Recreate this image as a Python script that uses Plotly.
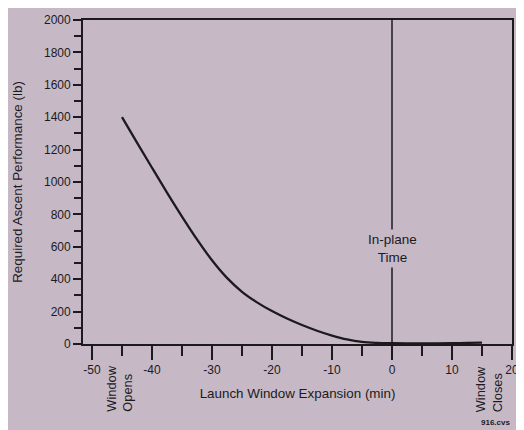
import plotly.graph_objects as go

# Data
expansion_min = [-45, -42.5, -40, -37.5, -35, -32.5, -30, -27.5, -25, -22.5, -20,
                 -17.5, -15, -12.5, -10, -7.5, -5, -2.5, 0, 2.5, 5, 7.5, 10, 12.5, 15]
ascent_perf_lb = [1400, 1243, 1088, 935, 787, 646, 517, 408, 322, 257, 203,
                  157, 117, 82, 52, 28, 13, 7, 5, 4, 4, 4, 5, 7, 8]

x_ticks = [-50, -40, -30, -20, -10, 0, 10, 20]
y_ticks = [0, 200, 400, 600, 800, 1000, 1200, 1400, 1600, 1800, 2000]

x_title = "Launch Window Expansion (min)"
y_title = "Required Ascent Performance (lb)"
inplane_label = "In-plane<br>Time"
opens_label = "Window<br>Opens"
closes_label = "Window<br>Closes"
opens_x = -45.4
closes_x = 16.2
inplane_x = 0
corner_note = "916.cvs"

BG = "#c6b9c5"
INK = "#1c1a1e"
FONT = "Liberation Sans, Arial, sans-serif"

fig = go.Figure()
fig.add_trace(go.Scatter(
    x=expansion_min, y=ascent_perf_lb, mode="lines",
    line=dict(color=INK, width=2.3, shape="spline", smoothing=1.0),
    hoverinfo="skip", showlegend=False,
))

# vertical in-plane time line
fig.add_shape(type="line", x0=inplane_x, x1=inplane_x, y0=0, y1=2000,
              xref="x", yref="y", line=dict(color=INK, width=1.5), layer="below")

fig.add_annotation(x=inplane_x, y=590, xref="x", yref="y", text=inplane_label,
                   showarrow=False, bgcolor=BG, borderpad=2,
                   font=dict(family=FONT, size=13.5, color=INK))

fig.add_annotation(x=opens_x, y=-0.139, xref="x", yref="paper", text=opens_label,
                   showarrow=False, textangle=-90, align="left", yanchor="middle",
                   font=dict(family=FONT, size=12.8, color=INK))
fig.add_annotation(x=closes_x, y=-0.139, xref="x", yref="paper", text=closes_label,
                   showarrow=False, textangle=-90, align="left", yanchor="middle",
                   font=dict(family=FONT, size=12.8, color=INK))
fig.add_annotation(x=1.0, y=-0.242, xref="paper", yref="paper", text="<b>" + corner_note + "</b>",
                   showarrow=False, xanchor="right", yanchor="middle",
                   font=dict(family=FONT, size=8, color=INK))

fig.update_xaxes(
    range=[-51.5, 20], tickvals=x_ticks, ticktext=[str(v) for v in x_ticks],
    ticks="outside", ticklen=14, tickwidth=1.5, tickcolor=INK,
    minor=dict(dtick=5, tick0=0, ticks="outside", ticklen=10, tickwidth=1.5, tickcolor=INK),
    showline=True, linecolor=INK, linewidth=1.8, mirror=True,
    showgrid=False, zeroline=False,
    tickfont=dict(family=FONT, size=12, color=INK),
    title=dict(text=x_title, font=dict(family=FONT, size=13.4, color=INK), standoff=12),
)
fig.update_yaxes(
    range=[0, 2000], tickvals=y_ticks, ticktext=[str(v) for v in y_ticks],
    ticks="outside", ticklen=8, tickwidth=1.5, tickcolor=INK,
    minor=dict(dtick=100, tick0=0, ticks="outside", ticklen=7, tickwidth=1.5, tickcolor=INK),
    showline=True, linecolor=INK, linewidth=1.8, mirror=True,
    showgrid=False, zeroline=False,
    tickfont=dict(family=FONT, size=12, color=INK),
    title=dict(text=y_title, font=dict(family=FONT, size=13.4, color=INK), standoff=18),
)

fig.update_layout(
    width=516, height=422,
    margin=dict(l=75, r=7, t=5, b=86),
    paper_bgcolor=BG, plot_bgcolor=BG,
    showlegend=False,
)

fig.write_html("out.html")
